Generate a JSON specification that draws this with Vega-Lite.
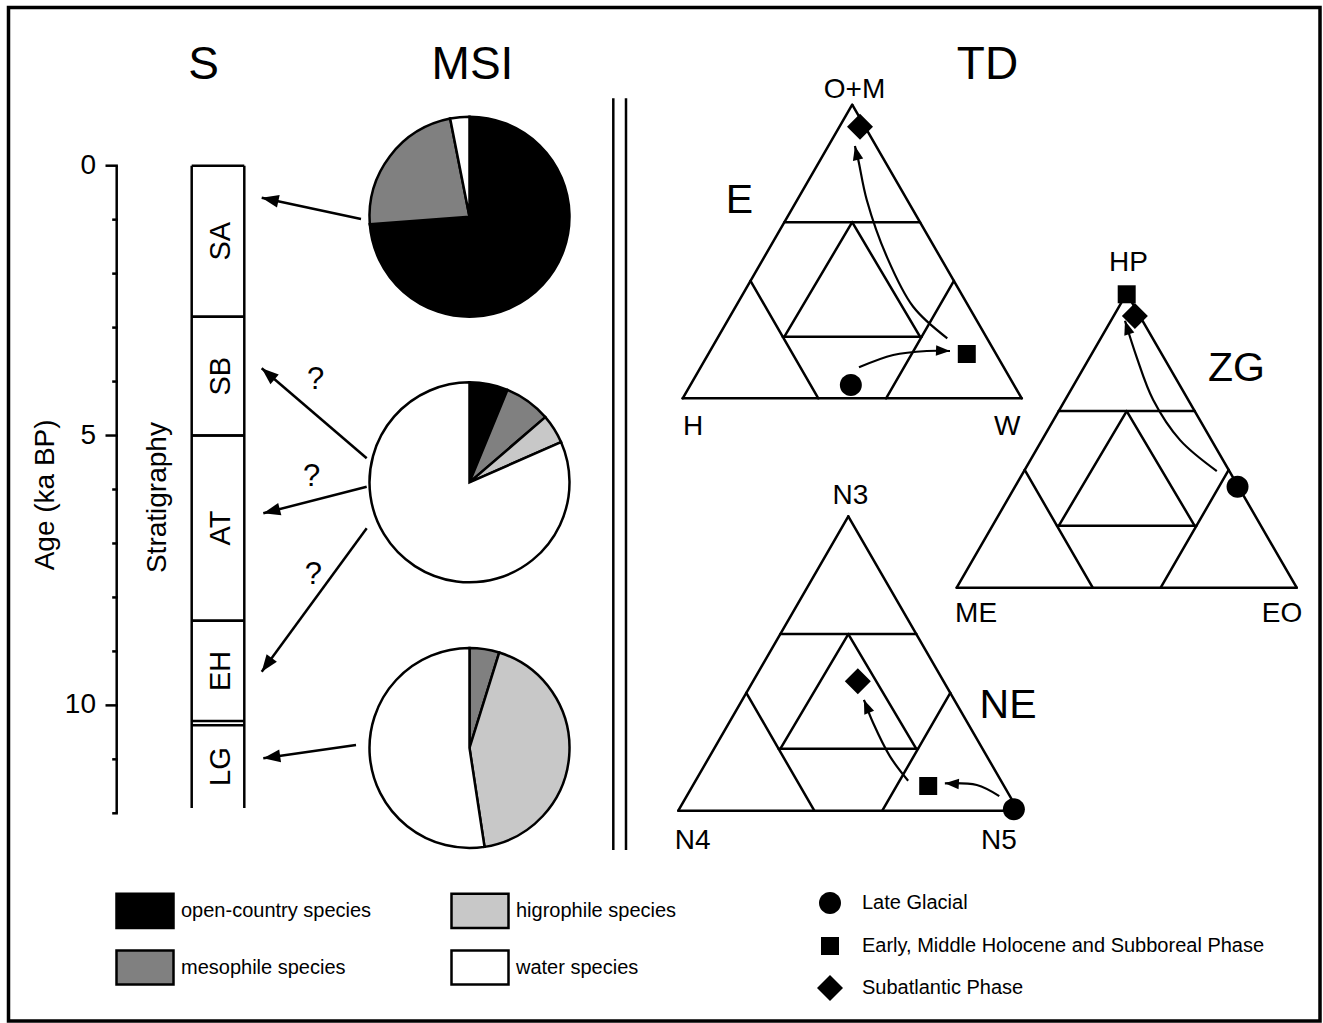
{
  "$schema": "https://vega.github.io/schema/vega-lite/v6.json",
  "width": 1311.5,
  "height": 1013.5,
  "autosize": {"type": "none"},
  "padding": {"left": 8.5, "top": 7.5, "right": 3, "bottom": 2},
  "background": "white",
  "config": {
    "view": {"stroke": "black", "strokeWidth": 3.5},
    "font": "Liberation Sans"
  },
  "datasets": {
    "pies": [
      {"phase": "SA", "species": "open-country species", "rank": 1, "pct": 73.8},
      {"phase": "SA", "species": "mesophile species", "rank": 2, "pct": 23.1},
      {"phase": "SA", "species": "water species", "rank": 4, "pct": 3.1},
      {"phase": "SB-EH", "species": "open-country species", "rank": 1, "pct": 6.2},
      {"phase": "SB-EH", "species": "mesophile species", "rank": 2, "pct": 7.5},
      {"phase": "SB-EH", "species": "higrophile species", "rank": 3, "pct": 4.7},
      {"phase": "SB-EH", "species": "water species", "rank": 4, "pct": 81.6},
      {"phase": "LG", "species": "mesophile species", "rank": 2, "pct": 4.8},
      {"phase": "LG", "species": "higrophile species", "rank": 3, "pct": 42.8},
      {"phase": "LG", "species": "water species", "rank": 4, "pct": 52.4}
    ],
    "strat": [
      {"unit": "SA", "top": 0, "bottom": 2.8},
      {"unit": "SB", "top": 2.8, "bottom": 5.0},
      {"unit": "AT", "top": 5.0, "bottom": 8.43},
      {"unit": "EH", "top": 8.43, "bottom": 10.29},
      {"unit": "LG", "top": 10.37, "bottom": 11.9}
    ],
    "ageTicks": [
      {"age": 0}, {"age": 1}, {"age": 2}, {"age": 3}, {"age": 4}, {"age": 5}, {"age": 6},
      {"age": 7}, {"age": 8}, {"age": 9}, {"age": 10}, {"age": 11}, {"age": 12}
    ],
    "grid": [
      {"u": 0, "v": 0, "u2": 100, "v2": 0},
      {"u": 0, "v": 0, "u2": 50, "v2": 86.6},
      {"u": 100, "v": 0, "u2": 50, "v2": 86.6},
      {"u": 30, "v": 51.96, "u2": 70, "v2": 51.96},
      {"u": 20, "v": 34.64, "u2": 40, "v2": 0},
      {"u": 80, "v": 34.64, "u2": 60, "v2": 0},
      {"u": 50, "v": 51.96, "u2": 30, "v2": 18.19},
      {"u": 50, "v": 51.96, "u2": 70, "v2": 18.19},
      {"u": 29.5, "v": 18.19, "u2": 70.5, "v2": 18.19}
    ],
    "curves": [
      {"tri": "E", "arrow": "E1", "i": 0, "u": 52.0, "v": 9.14},
      {"tri": "E", "arrow": "E1", "i": 1, "u": 62.1, "v": 12.77},
      {"tri": "E", "arrow": "E1", "i": 2, "u": 72.0, "v": 13.95},
      {"tri": "E", "arrow": "E1", "i": 3, "u": 78.85, "v": 13.95, "angle": 92},
      {"tri": "E", "arrow": "E2", "i": 0, "u": 78.05, "v": 17.7},
      {"tri": "E", "arrow": "E2", "i": 1, "u": 68.0, "v": 27.0},
      {"tri": "E", "arrow": "E2", "i": 2, "u": 60.2, "v": 41.8},
      {"tri": "E", "arrow": "E2", "i": 3, "u": 54.3, "v": 58.5},
      {"tri": "E", "arrow": "E2", "i": 4, "u": 51.8, "v": 70.3},
      {"tri": "E", "arrow": "E2", "i": 5, "u": 50.8, "v": 74.4, "angle": 347},
      {"tri": "ZG", "arrow": "Z1", "i": 0, "u": 76.5, "v": 34.3},
      {"tri": "ZG", "arrow": "Z1", "i": 1, "u": 65.7, "v": 43.4},
      {"tri": "ZG", "arrow": "Z1", "i": 2, "u": 57.8, "v": 55.2},
      {"tri": "ZG", "arrow": "Z1", "i": 3, "u": 52.9, "v": 67.9},
      {"tri": "ZG", "arrow": "Z1", "i": 4, "u": 49.5, "v": 78.5, "angle": 342},
      {"tri": "NE", "arrow": "N1", "i": 0, "u": 94.4, "v": 4.3},
      {"tri": "NE", "arrow": "N1", "i": 1, "u": 87.8, "v": 7.56},
      {"tri": "NE", "arrow": "N1", "i": 2, "u": 78.4, "v": 8.06, "angle": 273},
      {"tri": "NE", "arrow": "N2", "i": 0, "u": 67.6, "v": 8.8},
      {"tri": "NE", "arrow": "N2", "i": 1, "u": 62.3, "v": 15.9},
      {"tri": "NE", "arrow": "N2", "i": 2, "u": 57.35, "v": 25.7},
      {"tri": "NE", "arrow": "N2", "i": 3, "u": 54.6, "v": 32.6, "angle": 338}
    ],
    "markers": [
      {"tri": "E", "period": "Late Glacial", "u": 49.6, "v": 3.92},
      {"tri": "E", "period": "Early, Middle Holocene and Subboreal Phase", "u": 83.8, "v": 13.07},
      {"tri": "E", "period": "Subatlantic Phase", "u": 52.3, "v": 80.1},
      {"tri": "ZG", "period": "Early, Middle Holocene and Subboreal Phase", "u": 50.0, "v": 86.3},
      {"tri": "ZG", "period": "Subatlantic Phase", "u": 52.4, "v": 79.9},
      {"tri": "ZG", "period": "Late Glacial", "u": 82.6, "v": 29.7},
      {"tri": "NE", "period": "Late Glacial", "u": 98.7, "v": 0.4},
      {"tri": "NE", "period": "Early, Middle Holocene and Subboreal Phase", "u": 73.5, "v": 7.26},
      {"tri": "NE", "period": "Subatlantic Phase", "u": 52.8, "v": 38.1}
    ],
    "tlabels": [
      {"tri": "E", "role": "vertex", "label": "O+M", "u": 50.7, "v": 88.6},
      {"tri": "E", "role": "vertex", "label": "H", "u": 3.04, "v": -10.83},
      {"tri": "E", "role": "vertex", "label": "W", "u": 95.7, "v": -10.83},
      {"tri": "E", "role": "name", "label": "E", "u": 16.75, "v": 54.66},
      {"tri": "ZG", "role": "vertex", "label": "HP", "u": 50.5, "v": 93.15},
      {"tri": "ZG", "role": "vertex", "label": "ME", "u": 5.7, "v": -10.09},
      {"tri": "ZG", "role": "vertex", "label": "EO", "u": 95.7, "v": -10.09},
      {"tri": "ZG", "role": "name", "label": "ZG", "u": 82.3, "v": 60.8},
      {"tri": "NE", "role": "vertex", "label": "N3", "u": 50.6, "v": 90.2},
      {"tri": "NE", "role": "vertex", "label": "N4", "u": 4.2, "v": -11.26},
      {"tri": "NE", "role": "vertex", "label": "N5", "u": 94.3, "v": -11.26},
      {"tri": "NE", "role": "name", "label": "NE", "u": 97.0, "v": 27.26}
    ],
    "pieArrows": [
      {"target": "SA", "x": 361, "y": 219, "x2": 261.7, "y2": 197.7, "angle": 282.1},
      {"target": "SB", "x": 366.7, "y": 458.3, "x2": 261.7, "y2": 368.3, "angle": 310.6},
      {"target": "AT", "x": 366.7, "y": 486.7, "x2": 263.3, "y2": 513.3, "angle": 255.6},
      {"target": "EH", "x": 366.7, "y": 528.3, "x2": 261.7, "y2": 671.7, "angle": 216.2},
      {"target": "LG", "x": 356, "y": 745, "x2": 263.3, "y2": 758.3, "angle": 261.8}
    ],
    "questions": [
      {"label": "?", "x": 315.7, "y": 380},
      {"label": "?", "x": 311.7, "y": 476.7},
      {"label": "?", "x": 313.3, "y": 575}
    ],
    "titles": [
      {"label": "S", "x": 203.5},
      {"label": "MSI", "x": 472.5},
      {"label": "TD", "x": 987.5}
    ],
    "dividers": [{"x": 613.3}, {"x": 626}]
  },
  "layer": [
    {
      "layer": [
        {
          "data": {"name": "dividers"},
          "mark": {"type": "rule", "color": "black", "strokeWidth": 2.5},
          "encoding": {
            "x": {"field": "x", "type": "quantitative", "scale": {"domain": [8.5, 1320], "nice": false, "zero": false}, "axis": null},
            "y": {"datum": 98.3, "type": "quantitative", "scale": {"domain": [7.5, 1021], "reverse": true, "nice": false, "zero": false}, "axis": null},
            "y2": {"datum": 850}
          }
        },
        {
          "data": {"name": "titles"},
          "mark": {"type": "text", "fontSize": 46, "color": "black", "align": "center", "baseline": "alphabetic"},
          "encoding": {
            "x": {"field": "x", "type": "quantitative", "scale": {"domain": [8.5, 1320], "nice": false, "zero": false}, "axis": null},
            "y": {"datum": 79, "type": "quantitative", "scale": {"domain": [7.5, 1021], "reverse": true, "nice": false, "zero": false}, "axis": null},
            "text": {"field": "label"}
          }
        },
        {
          "data": {"name": "pieArrows"},
          "mark": {"type": "rule", "color": "black", "strokeWidth": 2.5},
          "encoding": {
            "x": {"field": "x", "type": "quantitative", "scale": {"domain": [8.5, 1320], "nice": false, "zero": false}, "axis": null},
            "y": {"field": "y", "type": "quantitative", "scale": {"domain": [7.5, 1021], "reverse": true, "nice": false, "zero": false}, "axis": null},
            "x2": {"field": "x2"},
            "y2": {"field": "y2"}
          }
        },
        {
          "data": {"name": "pieArrows"},
          "mark": {"type": "point", "shape": "M0,0L-0.75,2L0.75,2Z", "size": 289, "filled": true, "color": "black", "opacity": 1, "strokeWidth": 0},
          "encoding": {
            "x": {"field": "x2", "type": "quantitative", "scale": {"domain": [8.5, 1320], "nice": false, "zero": false}, "axis": null},
            "y": {"field": "y2", "type": "quantitative", "scale": {"domain": [7.5, 1021], "reverse": true, "nice": false, "zero": false}, "axis": null},
            "angle": {"field": "angle", "type": "quantitative", "scale": null}
          }
        },
        {
          "data": {"name": "questions"},
          "mark": {"type": "text", "fontSize": 31, "color": "black", "align": "center", "baseline": "middle"},
          "encoding": {
            "x": {"field": "x", "type": "quantitative", "scale": {"domain": [8.5, 1320], "nice": false, "zero": false}, "axis": null},
            "y": {"field": "y", "type": "quantitative", "scale": {"domain": [7.5, 1021], "reverse": true, "nice": false, "zero": false}, "axis": null},
            "text": {"field": "label"}
          }
        }
      ]
    },
    {
      "data": {"name": "pies"},
      "transform": [
        {"stack": "pct", "groupby": ["phase"], "sort": [{"field": "rank", "order": "ascending"}], "as": ["p0", "p1"]}
      ],
      "mark": {"type": "arc", "radius": 100, "stroke": "black", "strokeWidth": 2.5},
      "encoding": {
        "x": {"datum": 469.5, "type": "quantitative", "scale": {"domain": [8.5, 1320], "nice": false, "zero": false}, "axis": null},
        "y": {"field": "phase", "type": "ordinal", "scale": {"type": "point", "domain": ["SA", "SB-EH", "LG"], "range": [209.2, 740.5], "padding": 0}, "axis": null},
        "theta": {"field": "p0", "type": "quantitative", "scale": {"domain": [0, 100]}},
        "theta2": {"field": "p1"},
        "color": {
          "field": "species",
          "type": "nominal",
          "scale": {
            "domain": ["open-country species", "mesophile species", "higrophile species", "water species"],
            "range": ["#000000", "#808080", "#c8c8c8", "#ffffff"]
          },
          "legend": {
            "orient": "none",
            "legendX": 106.5,
            "legendY": 873,
            "columns": 2,
            "title": null,
            "symbolType": "M-1,-0.6H1V0.6H-1Z",
            "symbolSize": 3249,
            "symbolStrokeColor": "black",
            "symbolStrokeWidth": 2.5,
            "labelFontSize": 20,
            "labelColor": "black",
            "labelOffset": 6,
            "labelLimit": 400,
            "rowPadding": 4,
            "columnPadding": 74,
            "padding": 0
          }
        }
      }
    },
    {
      "layer": [
        {
          "data": {"name": "ageTicks"},
          "mark": {"type": "rule", "color": "black", "strokeWidth": 2.5},
          "encoding": {
            "y": {"aggregate": "min", "field": "age", "type": "quantitative", "scale": {"domain": [0, 12], "range": [158.2, 805.8], "nice": false, "zero": false}, "axis": null},
            "y2": {"aggregate": "max", "field": "age"},
            "x": {"datum": 116.7, "type": "quantitative", "scale": {"domain": [8.5, 1320], "nice": false, "zero": false}, "axis": null}
          }
        },
        {
          "data": {"name": "ageTicks"},
          "transform": [{"filter": "datum.age % 5 === 0"}],
          "mark": {"type": "rule", "color": "black", "strokeWidth": 2.5},
          "encoding": {
            "y": {"field": "age", "type": "quantitative", "scale": {"domain": [0, 12], "range": [158.2, 805.8], "nice": false, "zero": false}, "axis": null},
            "x": {"datum": 105.5, "type": "quantitative", "scale": {"domain": [8.5, 1320], "nice": false, "zero": false}, "axis": null},
            "x2": {"datum": 117.9}
          }
        },
        {
          "data": {"name": "ageTicks"},
          "transform": [{"filter": "datum.age % 5 !== 0"}],
          "mark": {"type": "rule", "color": "black", "strokeWidth": 2.5},
          "encoding": {
            "y": {"field": "age", "type": "quantitative", "scale": {"domain": [0, 12], "range": [158.2, 805.8], "nice": false, "zero": false}, "axis": null},
            "x": {"datum": 112.2, "type": "quantitative", "scale": {"domain": [8.5, 1320], "nice": false, "zero": false}, "axis": null},
            "x2": {"datum": 117.9}
          }
        },
        {
          "data": {"name": "ageTicks"},
          "transform": [{"filter": "datum.age % 5 === 0"}],
          "mark": {"type": "text", "fontSize": 28, "color": "black", "align": "right", "baseline": "middle"},
          "encoding": {
            "y": {"field": "age", "type": "quantitative", "scale": {"domain": [0, 12], "range": [158.2, 805.8], "nice": false, "zero": false}, "axis": null},
            "x": {"datum": 96, "type": "quantitative", "scale": {"domain": [8.5, 1320], "nice": false, "zero": false}, "axis": null},
            "text": {"field": "age", "type": "quantitative"}
          }
        },
        {
          "data": {"values": [{"label": "Age (ka BP)"}]},
          "mark": {"type": "text", "fontSize": 28, "color": "black", "angle": 270, "align": "center", "baseline": "alphabetic"},
          "encoding": {
            "y": {"datum": 6.1, "type": "quantitative", "scale": {"domain": [0, 12], "range": [158.2, 805.8], "nice": false, "zero": false}, "axis": null},
            "x": {"datum": 53.5, "type": "quantitative", "scale": {"domain": [8.5, 1320], "nice": false, "zero": false}, "axis": null},
            "text": {"field": "label"}
          }
        },
        {
          "data": {"name": "strat"},
          "mark": {"type": "rule", "color": "black", "strokeWidth": 2.5},
          "encoding": {
            "y": {"field": "top", "type": "quantitative", "scale": {"domain": [0, 12], "range": [158.2, 805.8], "nice": false, "zero": false}, "axis": null},
            "x": {"datum": 191.7, "type": "quantitative", "scale": {"domain": [8.5, 1320], "nice": false, "zero": false}, "axis": null},
            "x2": {"datum": 244.3}
          }
        },
        {
          "data": {"name": "strat"},
          "transform": [{"filter": "datum.unit !== 'LG'"}],
          "mark": {"type": "rule", "color": "black", "strokeWidth": 2.5},
          "encoding": {
            "y": {"field": "bottom", "type": "quantitative", "scale": {"domain": [0, 12], "range": [158.2, 805.8], "nice": false, "zero": false}, "axis": null},
            "x": {"datum": 191.7, "type": "quantitative", "scale": {"domain": [8.5, 1320], "nice": false, "zero": false}, "axis": null},
            "x2": {"datum": 244.3}
          }
        },
        {
          "data": {"name": "strat"},
          "mark": {"type": "rule", "color": "black", "strokeWidth": 2.5},
          "encoding": {
            "y": {"aggregate": "min", "field": "top", "type": "quantitative", "scale": {"domain": [0, 12], "range": [158.2, 805.8], "nice": false, "zero": false}, "axis": null},
            "y2": {"aggregate": "max", "field": "bottom"},
            "x": {"datum": 191.7, "type": "quantitative", "scale": {"domain": [8.5, 1320], "nice": false, "zero": false}, "axis": null}
          }
        },
        {
          "data": {"name": "strat"},
          "mark": {"type": "rule", "color": "black", "strokeWidth": 2.5},
          "encoding": {
            "y": {"aggregate": "min", "field": "top", "type": "quantitative", "scale": {"domain": [0, 12], "range": [158.2, 805.8], "nice": false, "zero": false}, "axis": null},
            "y2": {"aggregate": "max", "field": "bottom"},
            "x": {"datum": 244.3, "type": "quantitative", "scale": {"domain": [8.5, 1320], "nice": false, "zero": false}, "axis": null}
          }
        },
        {
          "data": {"name": "strat"},
          "transform": [{"fold": ["top", "bottom"], "as": ["edge", "age"]}],
          "mark": {"type": "text", "fontSize": 29, "color": "black", "angle": 270, "align": "center", "baseline": "alphabetic"},
          "encoding": {
            "y": {"aggregate": "mean", "field": "age", "type": "quantitative", "scale": {"domain": [0, 12], "range": [158.2, 805.8], "nice": false, "zero": false}, "axis": null},
            "x": {"datum": 230, "type": "quantitative", "scale": {"domain": [8.5, 1320], "nice": false, "zero": false}, "axis": null},
            "text": {"field": "unit"}
          }
        },
        {
          "data": {"values": [{"label": "Stratigraphy"}]},
          "mark": {"type": "text", "fontSize": 28, "color": "black", "angle": 270, "align": "center", "baseline": "alphabetic"},
          "encoding": {
            "y": {"datum": 6.15, "type": "quantitative", "scale": {"domain": [0, 12], "range": [158.2, 805.8], "nice": false, "zero": false}, "axis": null},
            "x": {"datum": 166, "type": "quantitative", "scale": {"domain": [8.5, 1320], "nice": false, "zero": false}, "axis": null},
            "text": {"field": "label"}
          }
        }
      ]
    },
    {
      "encoding": {
        "x": {"field": "u", "type": "quantitative", "scale": {"domain": [-198.879, 187.994], "nice": false, "zero": false}, "axis": null},
        "y": {"field": "v", "type": "quantitative", "scale": {"domain": [-183.687, 115.28], "nice": false, "zero": false}, "axis": null}
      },
      "layer": [
        {
          "data": {"name": "grid"},
          "mark": {"type": "rule", "color": "black", "strokeWidth": 2.5, "strokeCap": "round"},
          "encoding": {"x2": {"field": "u2"}, "y2": {"field": "v2"}}
        },
        {
          "data": {"name": "curves"},
          "transform": [{"filter": "datum.tri === 'E'"}],
          "mark": {"type": "line", "interpolate": "catmull-rom", "color": "black", "strokeWidth": 2.2},
          "encoding": {"detail": {"field": "arrow"}, "order": {"field": "i", "type": "quantitative"}}
        },
        {
          "data": {"name": "curves"},
          "transform": [{"filter": "datum.tri === 'E' && isValid(datum.angle)"}],
          "mark": {"type": "point", "shape": "M0,0L-0.75,2L0.75,2Z", "size": 196, "filled": true, "color": "black", "opacity": 1, "strokeWidth": 0},
          "encoding": {"angle": {"field": "angle", "type": "quantitative", "scale": null}}
        },
        {
          "data": {"name": "markers"},
          "transform": [{"filter": "datum.tri === 'E'"}],
          "mark": {"type": "point", "filled": true, "color": "black", "opacity": 1, "size": 676, "strokeWidth": 0},
          "encoding": {
            "shape": {"field": "period", "type": "nominal",
              "scale": {"domain": ["Late Glacial", "Early, Middle Holocene and Subboreal Phase", "Subatlantic Phase"],
                "range": ["M0.846,0A0.846,0.846,0,1,1,-0.846,0A0.846,0.846,0,1,1,0.846,0Z", "M-0.692,-0.692H0.692V0.692H-0.692Z", "M0,-1L1,0L0,1L-1,0Z"]},
              "legend": {"orient": "none", "legendX": 808.5, "legendY": 882.5, "title": null, "symbolSize": 676, "labelFontSize": 20, "labelColor": "black", "labelOffset": 19, "rowPadding": 19, "labelLimit": 600, "padding": 0, "symbolFillColor": "black", "symbolStrokeWidth": 0}}
          }
        },
        {
          "data": {"name": "tlabels"},
          "transform": [{"filter": "datum.tri === 'E' && datum.role === 'vertex'"}],
          "mark": {"type": "text", "fontSize": 28, "color": "black", "align": "center", "baseline": "alphabetic"},
          "encoding": {"text": {"field": "label"}}
        },
        {
          "data": {"name": "tlabels"},
          "transform": [{"filter": "datum.tri === 'E' && datum.role === 'name'"}],
          "mark": {"type": "text", "fontSize": 41, "color": "black", "align": "center", "baseline": "alphabetic"},
          "encoding": {"text": {"field": "label"}}
        }
      ]
    },
    {
      "encoding": {
        "x": {"field": "u", "type": "quantitative", "scale": {"domain": [-278.882, 106.853], "nice": false, "zero": false}, "axis": null},
        "y": {"field": "v", "type": "quantitative", "scale": {"domain": [-127.441, 170.647], "nice": false, "zero": false}, "axis": null}
      },
      "layer": [
        {
          "data": {"name": "grid"},
          "mark": {"type": "rule", "color": "black", "strokeWidth": 2.5, "strokeCap": "round"},
          "encoding": {"x2": {"field": "u2"}, "y2": {"field": "v2"}}
        },
        {
          "data": {"name": "curves"},
          "transform": [{"filter": "datum.tri === 'ZG'"}],
          "mark": {"type": "line", "interpolate": "catmull-rom", "color": "black", "strokeWidth": 2.2},
          "encoding": {"detail": {"field": "arrow"}, "order": {"field": "i", "type": "quantitative"}}
        },
        {
          "data": {"name": "markers"},
          "transform": [{"filter": "datum.tri === 'ZG'"}],
          "mark": {"type": "point", "filled": true, "color": "black", "opacity": 1, "size": 676, "strokeWidth": 0},
          "encoding": {
            "shape": {"field": "period", "type": "nominal",
              "scale": {"domain": ["Late Glacial", "Early, Middle Holocene and Subboreal Phase", "Subatlantic Phase"],
                "range": ["M0.846,0A0.846,0.846,0,1,1,-0.846,0A0.846,0.846,0,1,1,0.846,0Z", "M-0.692,-0.692H0.692V0.692H-0.692Z", "M0,-1L1,0L0,1L-1,0Z"]},
              "legend": {"orient": "none", "legendX": 808.5, "legendY": 882.5, "title": null, "symbolSize": 676, "labelFontSize": 20, "labelColor": "black", "labelOffset": 19, "rowPadding": 19, "labelLimit": 600, "padding": 0, "symbolFillColor": "black", "symbolStrokeWidth": 0}}
          }
        },
        {
          "data": {"name": "curves"},
          "transform": [{"filter": "datum.tri === 'ZG' && isValid(datum.angle)"}],
          "mark": {"type": "point", "shape": "M0,0L-0.75,2L0.75,2Z", "size": 196, "filled": true, "color": "black", "opacity": 1, "strokeWidth": 0},
          "encoding": {"angle": {"field": "angle", "type": "quantitative", "scale": null}}
        },
        {
          "data": {"name": "tlabels"},
          "transform": [{"filter": "datum.tri === 'ZG' && datum.role === 'vertex'"}],
          "mark": {"type": "text", "fontSize": 28, "color": "black", "align": "center", "baseline": "alphabetic"},
          "encoding": {"text": {"field": "label"}}
        },
        {
          "data": {"name": "tlabels"},
          "transform": [{"filter": "datum.tri === 'ZG' && datum.role === 'name'"}],
          "mark": {"type": "text", "fontSize": 41, "color": "black", "align": "center", "baseline": "alphabetic"},
          "encoding": {"text": {"field": "label"}}
        }
      ]
    },
    {
      "encoding": {
        "x": {"field": "u", "type": "quantitative", "scale": {"domain": [-197.0, 188.735], "nice": false, "zero": false}, "axis": null},
        "y": {"field": "v", "type": "quantitative", "scale": {"domain": [-61.853, 236.235], "nice": false, "zero": false}, "axis": null}
      },
      "layer": [
        {
          "data": {"name": "grid"},
          "mark": {"type": "rule", "color": "black", "strokeWidth": 2.5, "strokeCap": "round"},
          "encoding": {"x2": {"field": "u2"}, "y2": {"field": "v2"}}
        },
        {
          "data": {"name": "curves"},
          "transform": [{"filter": "datum.tri === 'NE'"}],
          "mark": {"type": "line", "interpolate": "catmull-rom", "color": "black", "strokeWidth": 2.2},
          "encoding": {"detail": {"field": "arrow"}, "order": {"field": "i", "type": "quantitative"}}
        },
        {
          "data": {"name": "curves"},
          "transform": [{"filter": "datum.tri === 'NE' && isValid(datum.angle)"}],
          "mark": {"type": "point", "shape": "M0,0L-0.75,2L0.75,2Z", "size": 196, "filled": true, "color": "black", "opacity": 1, "strokeWidth": 0},
          "encoding": {"angle": {"field": "angle", "type": "quantitative", "scale": null}}
        },
        {
          "data": {"name": "markers"},
          "transform": [{"filter": "datum.tri === 'NE'"}],
          "mark": {"type": "point", "filled": true, "color": "black", "opacity": 1, "size": 676, "strokeWidth": 0},
          "encoding": {
            "shape": {"field": "period", "type": "nominal",
              "scale": {"domain": ["Late Glacial", "Early, Middle Holocene and Subboreal Phase", "Subatlantic Phase"],
                "range": ["M0.846,0A0.846,0.846,0,1,1,-0.846,0A0.846,0.846,0,1,1,0.846,0Z", "M-0.692,-0.692H0.692V0.692H-0.692Z", "M0,-1L1,0L0,1L-1,0Z"]},
              "legend": {"orient": "none", "legendX": 808.5, "legendY": 882.5, "title": null, "symbolSize": 676, "labelFontSize": 20, "labelColor": "black", "labelOffset": 19, "rowPadding": 19, "labelLimit": 600, "padding": 0, "symbolFillColor": "black", "symbolStrokeWidth": 0}}
          }
        },
        {
          "data": {"name": "tlabels"},
          "transform": [{"filter": "datum.tri === 'NE' && datum.role === 'vertex'"}],
          "mark": {"type": "text", "fontSize": 28, "color": "black", "align": "center", "baseline": "alphabetic"},
          "encoding": {"text": {"field": "label"}}
        },
        {
          "data": {"name": "tlabels"},
          "transform": [{"filter": "datum.tri === 'NE' && datum.role === 'name'"}],
          "mark": {"type": "text", "fontSize": 41, "color": "black", "align": "center", "baseline": "alphabetic"},
          "encoding": {"text": {"field": "label"}}
        }
      ]
    }
  ],
  "resolve": {"scale": {"x": "independent", "y": "independent"}}
}
